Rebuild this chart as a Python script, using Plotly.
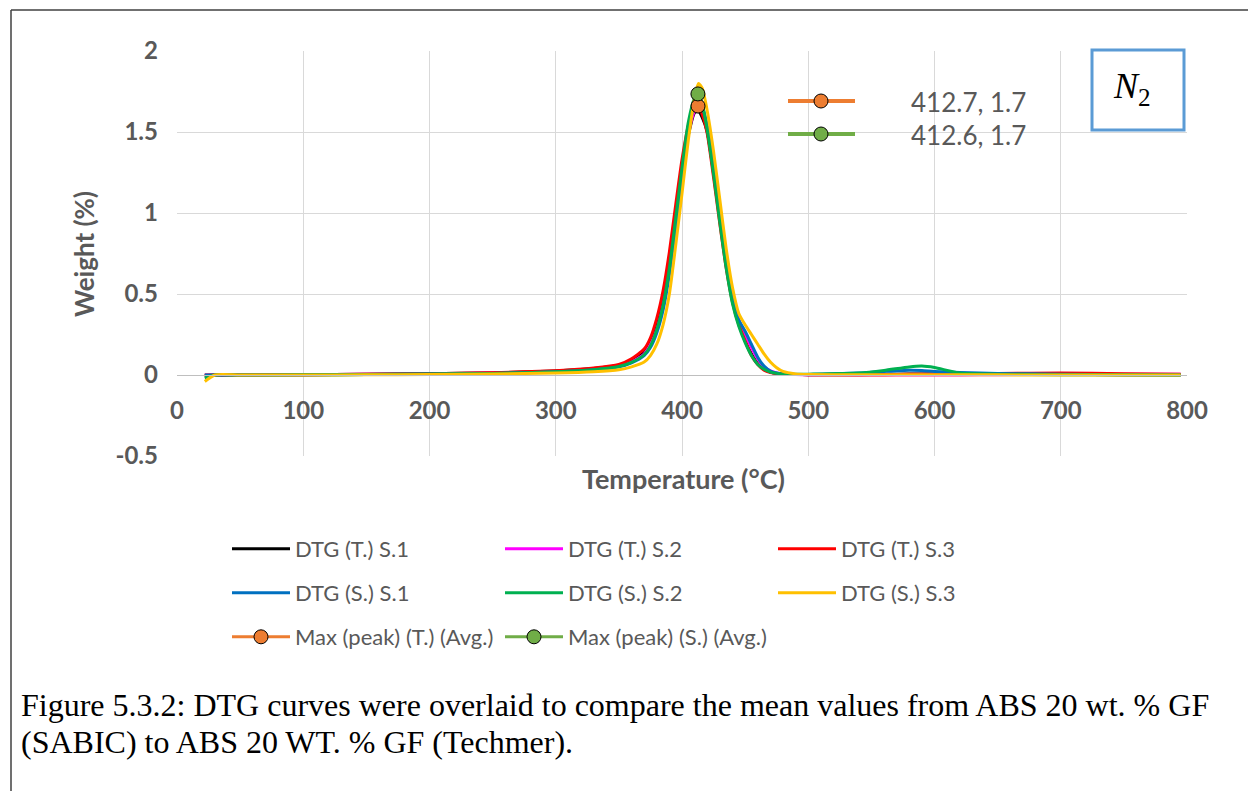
import plotly.graph_objects as go

# ---------------- data ----------------
temps = [22, 30, 50, 100, 150, 200, 250, 300, 330, 350,
         360, 370, 375, 380, 385, 390, 395, 400, 405, 410,
         413, 416, 420, 425, 430, 435, 440, 445, 450, 455,
         460, 465, 470, 475, 480, 490, 500, 540, 560, 580,
         590, 600, 620, 650, 700, 750, 795]

dtg_T_s1 = [-0.005, 0.0, 0.0, 0.002, 0.004, 0.008, 0.013, 0.025, 0.04, 0.06,
            0.09, 0.14, 0.20, 0.30, 0.45, 0.68, 0.92, 1.25, 1.48, 1.62,
            1.63, 1.59, 1.50, 1.25, 0.96, 0.68, 0.46, 0.32, 0.21, 0.13,
            0.07, 0.035, 0.018, 0.01, 0.006, 0.003, 0.002, 0.002, 0.004, 0.006,
            0.006, 0.005, 0.004, 0.004, 0.003, 0.002, 0.001]
dtg_T_s2 = [0.0, 0.0, 0.0, 0.002, 0.004, 0.007, 0.012, 0.022, 0.036, 0.055,
            0.08, 0.13, 0.19, 0.28, 0.43, 0.65, 0.94, 1.24, 1.49, 1.63,
            1.66, 1.62, 1.52, 1.28, 1.00, 0.72, 0.49, 0.34, 0.25, 0.17,
            0.10, 0.05, 0.025, 0.012, 0.007, 0.003, 0.002, 0.0, 0.0, 0.0,
            0.0, 0.0, 0.0, 0.002, 0.003, 0.004, 0.005]
dtg_T_s3 = [0.0, 0.0, 0.0, 0.002, 0.004, 0.008, 0.014, 0.027, 0.043, 0.065,
            0.10, 0.16, 0.23, 0.35, 0.52, 0.76, 1.05, 1.33, 1.54, 1.65,
            1.66, 1.61, 1.49, 1.22, 0.93, 0.66, 0.45, 0.31, 0.21, 0.12,
            0.065, 0.03, 0.015, 0.008, 0.005, 0.003, 0.002, 0.001, 0.002, 0.004,
            0.005, 0.006, 0.008, 0.010, 0.012, 0.008, 0.004]
dtg_S_s1 = [0.0, 0.0, 0.0, 0.001, 0.003, 0.006, 0.010, 0.020, 0.032, 0.05,
            0.075, 0.12, 0.17, 0.26, 0.40, 0.62, 0.92, 1.22, 1.50, 1.67,
            1.70, 1.66, 1.54, 1.30, 1.00, 0.72, 0.49, 0.34, 0.27, 0.19,
            0.11, 0.055, 0.025, 0.012, 0.006, 0.003, 0.003, 0.012, 0.022, 0.030,
            0.028, 0.022, 0.015, 0.010, 0.005, 0.002, 0.0]
dtg_S_s2 = [-0.02, 0.0, 0.0, 0.001, 0.003, 0.006, 0.010, 0.020, 0.033, 0.052,
            0.078, 0.125, 0.18, 0.28, 0.43, 0.66, 0.97, 1.28, 1.56, 1.71,
            1.73, 1.67, 1.51, 1.24, 0.94, 0.66, 0.44, 0.30, 0.20, 0.12,
            0.065, 0.035, 0.018, 0.01, 0.006, 0.004, 0.005, 0.012, 0.028, 0.050,
            0.055, 0.046, 0.012, 0.005, 0.002, 0.001, 0.0]
dtg_S_s3 = [-0.04, 0.0, 0.0, 0.0, 0.001, 0.003, 0.006, 0.012, 0.02, 0.032,
            0.05, 0.08, 0.12, 0.19, 0.31, 0.50, 0.80, 1.12, 1.45, 1.71,
            1.80, 1.77, 1.63, 1.38, 1.08, 0.78, 0.54, 0.38, 0.31, 0.25,
            0.19, 0.13, 0.08, 0.045, 0.022, 0.007, 0.003, 0.001, 0.001, 0.002,
            0.002, 0.002, 0.001, 0.001, 0.0, 0.0, 0.0]

peak_T_x = [412.7]
peak_T_y = [1.66]
peak_S_x = [412.6]
peak_S_y = [1.735]

series_names = ["DTG (T.) S.1", "DTG (T.) S.2", "DTG (T.) S.3",
                "DTG (S.) S.1", "DTG (S.) S.2", "DTG (S.) S.3"]
series_colors = ["#000000", "#FF00FF", "#FF0000", "#0070C0", "#00B050", "#FFC000"]
series_values = [dtg_T_s1, dtg_T_s2, dtg_T_s3, dtg_S_s1, dtg_S_s2, dtg_S_s3]

x_ticks = [0, 100, 200, 300, 400, 500, 600, 700, 800]
y_ticks = [-0.5, 0, 0.5, 1, 1.5, 2]
y_tick_labels = ["-0.5", "0", "0.5", "1", "1.5", "2"]

caption_lines = ["Figure 5.3.2: DTG curves were overlaid to compare the mean values from ABS 20 wt. % GF",
                 "(SABIC) to ABS 20 WT. % GF (Techmer)."]

# ---------------- layout geometry ----------------
W, H = 1248, 791
PL, PR, PT, PB = 177, 1187, 51, 456          # plot area in pixels
XMIN, XMAX = 0, 800
YMIN, YMAX = -0.5, 2


def px(x):
    return (x - PL) / (PR - PL)


def py(y):
    return (PB - y) / (PB - PT)


GRAY = "#595959"
GRID = "#D9D9D9"

fig = go.Figure()

legend_ids = ["legend", "legend", "legend", "legend2", "legend2", "legend2"]
for name, col, vals, lg in zip(series_names, series_colors, series_values, legend_ids):
    fig.add_trace(go.Scatter(
        x=temps, y=vals, name=name, mode="lines",
        line=dict(color=col, width=3, shape="spline", smoothing=0.6),
        legend=lg, hoverinfo="skip"))

fig.add_trace(go.Scatter(
    x=peak_T_x, y=peak_T_y, name="Max (peak) (T.) (Avg.)", mode="lines+markers",
    line=dict(color="#ED7D31", width=3),
    marker=dict(size=14, color="#ED7D31", line=dict(color="#000000", width=1)),
    legend="legend3"))
fig.add_trace(go.Scatter(
    x=peak_S_x, y=peak_S_y, name="Max (peak) (S.) (Avg.)", mode="lines+markers",
    line=dict(color="#70AD47", width=3),
    marker=dict(size=14, color="#70AD47", line=dict(color="#000000", width=1)),
    legend="legend3"))

leg_common = dict(orientation="h", xanchor="left", yanchor="middle",
                  font=dict(family="Lato", size=22, color=GRAY),
                  entrywidth=200, entrywidthmode="pixels", itemwidth=58,
                  bgcolor="rgba(0,0,0,0)", tracegroupgap=0, itemclick=False)

fig.update_layout(
    width=W, height=H,
    margin=dict(l=PL, r=W - PR, t=PT, b=H - PB, pad=0),
    paper_bgcolor="white", plot_bgcolor="white",
    legend=dict(x=px(227), y=py(549), **leg_common),
    legend2=dict(x=px(227), y=py(593), **leg_common),
    legend3=dict(x=px(227), y=py(637), **leg_common),
    xaxis=dict(range=[XMIN, XMAX], tickvals=x_ticks, showgrid=True, gridcolor=GRID,
               gridwidth=1, zeroline=False, showline=True, linecolor="#BFBFBF",
               linewidth=1, anchor="free", position=(0 - YMIN) / (YMAX - YMIN),
               ticks="", ticklabelstandoff=14,
               tickfont=dict(family="Lato", size=24, color=GRAY, weight="bold")),
    yaxis=dict(range=[YMIN, YMAX], tickvals=y_ticks, ticktext=y_tick_labels,
               showgrid=True, gridcolor=GRID, gridwidth=1, zeroline=False,
               showline=False, ticks="", ticklabelstandoff=18,
               tickfont=dict(family="Lato", size=24, color=GRAY, weight="bold")),
)

annotations = [
    dict(text="Temperature (°C)", x=px(683), y=py(478), xref="paper", yref="paper",
         showarrow=False, xanchor="center", yanchor="middle",
         font=dict(family="Lato", size=27, color=GRAY, weight="bold")),
    dict(text="Weight (%)", x=px(84), y=py(254), xref="paper", yref="paper",
         showarrow=False, textangle=-90, xanchor="center", yanchor="middle",
         font=dict(family="Lato", size=26, color=GRAY, weight="bold")),
    dict(text="<i>N</i><sub>2</sub>", x=px(1132), y=py(88), xref="paper", yref="paper",
         showarrow=False, xanchor="center", yanchor="middle",
         font=dict(family="Liberation Serif", size=36, color="#000000")),
]
for line_txt, ly in zip(caption_lines, [705, 742]):
    annotations.append(dict(text=line_txt, x=px(19), y=py(ly), xref="paper", yref="paper",
                            showarrow=False, xanchor="left", yanchor="middle", align="left",
                            font=dict(family="Liberation Serif", size=32, color="#000000")))

shapes = [
    # outer frame
    dict(type="line", xref="paper", yref="paper", x0=px(11), x1=px(1250), y0=py(10), y1=py(10),
         line=dict(color="#404040", width=1.5)),
    dict(type="line", xref="paper", yref="paper", x0=px(11), x1=px(11), y0=py(10), y1=py(795),
         line=dict(color="#404040", width=1.5)),
    # N2 box
    dict(type="rect", xref="paper", yref="paper", x0=px(1092), x1=px(1184), y0=py(130), y1=py(50),
         line=dict(color="#5B9BD5", width=3), fillcolor="white", layer="above"),
]

# data-label keys for the peak values
for (pxs, pys, col, ky) in [(peak_T_x, peak_T_y, "#ED7D31", 101), (peak_S_x, peak_S_y, "#70AD47", 134)]:
    shapes.append(dict(type="line", xref="paper", yref="paper", x0=px(788), x1=px(855),
                       y0=py(ky), y1=py(ky), line=dict(color=col, width=4)))
    shapes.append(dict(type="circle", xref="paper", yref="paper", xsizemode="pixel",
                       ysizemode="pixel", xanchor=px(821), yanchor=py(ky),
                       x0=-7, x1=7, y0=-7, y1=7, fillcolor=col,
                       line=dict(color="#000000", width=1)))
    annotations.append(dict(text=f"{pxs[0]:.1f}, {pys[0]:.1f}", x=px(909), y=py(ky + 1),
                            xref="paper", yref="paper", showarrow=False,
                            xanchor="left", yanchor="middle",
                            font=dict(family="Lato", size=26, color=GRAY)))

fig.update_layout(annotations=annotations, shapes=shapes)

fig.write_html("out.html")
